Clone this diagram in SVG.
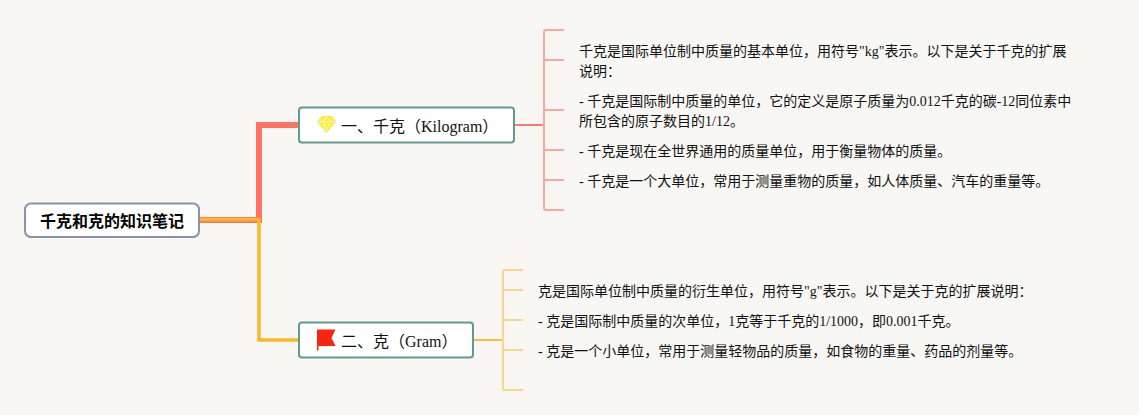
<svg xmlns="http://www.w3.org/2000/svg" width="1139" height="415" viewBox="0 0 1139 415">
<style>
text{font-family:"Liberation Serif","Noto Sans CJK SC",serif;fill:#111}
.b{font-size:14px}
.t{font-size:16px}
.r{font-family:"Noto Sans CJK SC","Liberation Sans",sans-serif;font-size:16px;font-weight:700;fill:#000}
.n{fill:#fff;stroke:#5f9b8f;stroke-width:2}
.c{fill:none;stroke-linejoin:miter}
.m{font-family:"Noto Sans CJK JP",sans-serif}
</style>
<rect width="1139" height="415" fill="#f9f7f4"/>
<g id="connectors">
<path class="c" d="M199 220H259V125H299" stroke="#ff7161" stroke-width="6"/>
<path class="c" d="M199 219.500H259V340H299" stroke="#ffb52b" stroke-width="3.500"/>
<path class="c" d="M514 125H544" stroke="#fb7a6a" stroke-width="2"/>
<path class="c" d="M564 30H546Q544 30 544 32V208Q544 210 546 210H564M544 60H564M544 110H564M544 150H564M544 180H564" stroke="#f7a99f" stroke-width="2"/>
<path class="c" d="M473 340H503" stroke="#fbbd3d" stroke-width="2"/>
<path class="c" d="M523 270H505Q503 270 503 272V388Q503 390 505 390H523M503 290H523M503 320H523M503 350H523" stroke="#fbd68a" stroke-width="2"/>
</g>
<g id="root">
<rect x="25" y="203.500" width="174" height="33.500" rx="6" fill="#fff" stroke="#8791a8" stroke-width="2"/>
<text class="r" x="40" y="227">千克和克的知识笔记</text>
</g>
<g id="node-kilogram">
<rect class="n" x="299" y="107.500" width="215" height="35" rx="3"/>
<path d="M322 116.500H331.500L335.500 121.500L326.500 132.500L317.500 121.500Z" fill="#fdee4e" stroke="#f8e640" stroke-width="1"/>
<path d="M318 121.500H335M323 121.500L326.500 131M330 121.500L326.500 131M323 121.500L326.500 117L330 121.500" fill="none" stroke="#fff8a8" stroke-width="1"/>
<text class="t" x="341" y="132">一、千克（Kilogram）</text>
</g>
<g id="node-gram">
<rect class="n" x="299" y="322.500" width="174" height="35" rx="3"/>
<path d="M317 329.500H335.500L331.500 338L335.500 346H318.500V350.500H317Z" fill="#f5270e"/>
<text class="t" x="341" y="347">二、克（Gram）</text>
</g>
<g id="text-kilogram">
<text class="b" x="579" y="56">千克是国际单位制中质量的基本单位，用符号"kg"表示。以下是关于千克的扩展</text>
<text class="b" x="579" y="76">说明：</text>
<text class="b" x="579" y="106">- 千克是国际制中质量的单位，它的定义是原子质量为0.012千克的碳-12同位素中</text>
<text class="b" x="579" y="126">所包含的原子数目的1/12。</text>
<text class="b" x="579" y="156">- 千克是现在全世界通用的质量单位，用于衡量物体的质量。</text>
<text class="b" x="579" y="186">- 千克是一个大单位，常用于<tspan class="m">测</tspan>量重物的质量，如人体质量、汽车的重量等。</text>
</g>
<g id="text-gram">
<text class="b" x="538" y="296">克是国际单位制中质量的衍生单位，用符号"g"表示。以下是关于克的扩展说明：</text>
<text class="b" x="538" y="326">- 克是国际制中质量的次单位，1克等于千克的1/1000，即0.001千克。</text>
<text class="b" x="538" y="356">- 克是一个小单位，常用于<tspan class="m">测</tspan>量轻物品的质量，如食物的重量、药品的剂量等。</text>
</g>
</svg>
